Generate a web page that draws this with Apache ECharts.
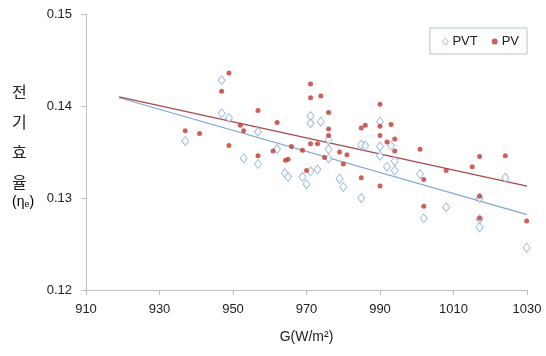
<!DOCTYPE html>
<html>
<head>
<meta charset="utf-8">
<script src="https://cdn.jsdelivr.net/npm/echarts@6/dist/echarts.min.js"></script>
<style>html,body{margin:0;padding:0;background:#fff}#c{width:546px;height:356px}</style>
</head>
<body>
<div id="c"></div>
<script>
// x tick labels / axis
const xTicks = [910, 930, 950, 970, 990, 1010, 1030];
const yTicks = [0.12, 0.13, 0.14, 0.15];

// PVT data: [G, efficiency]
const pvtG = [937.0, 946.9, 946.9, 948.9, 952.9, 956.8, 956.8, 962.0, 964.1, 965.0,
  968.9, 970.0, 971.1, 971.1, 973.9, 971.1, 973.0, 976.0, 976.0, 976.0,
  979.0, 980.0, 984.9, 986.0, 984.9, 990.0, 990.0, 993.0, 990.0, 994.0,
  991.9, 994.0, 1000.9, 1001.9, 1008.0, 1017.1, 1017.1, 1017.1, 1024.1, 1029.9];
const pvtEff = [0.1362, 0.1428, 0.1392, 0.1387, 0.1343, 0.1372, 0.1337, 0.1353, 0.1327, 0.1323,
  0.1323, 0.1315, 0.1389, 0.1381, 0.1383, 0.1329, 0.1331, 0.1363, 0.1353, 0.1343,
  0.1321, 0.1312, 0.1358, 0.1357, 0.1300, 0.1383, 0.1356, 0.1357, 0.1346, 0.1340,
  0.1334, 0.1330, 0.1326, 0.1278, 0.1290, 0.1300, 0.1277, 0.1268, 0.1322, 0.1246];

// PV data
const pvG = [937.0, 940.9, 948.9, 946.9, 956.8, 952.0, 952.9, 948.9, 956.8, 962.0,
  960.9, 965.9, 968.9, 964.3, 965.0, 970.0, 971.1, 971.1, 973.9, 976.0,
  976.0, 976.0, 971.1, 973.0, 974.9, 979.0, 981.0, 980.0, 984.9, 986.0,
  984.9, 990.0, 990.0, 990.0, 993.0, 991.9, 994.0, 994.0, 990.0, 1000.9,
  1001.9, 1001.9, 1008.0, 1015.1, 1017.1, 1017.1, 1017.1, 1024.1, 1029.9];
const pvEff = [0.1373, 0.1370, 0.1436, 0.1416, 0.1395, 0.1379, 0.1373, 0.1357, 0.1346, 0.1382,
  0.1351, 0.1356, 0.1352, 0.1341, 0.1342, 0.1330, 0.1424, 0.1409, 0.1411, 0.1393,
  0.1375, 0.1368, 0.1359, 0.1359, 0.1344, 0.1350, 0.1347, 0.1337, 0.1376, 0.1379,
  0.1322, 0.1402, 0.1378, 0.1368, 0.1380, 0.1361, 0.1364, 0.1351, 0.1313, 0.1353,
  0.1320, 0.1291, 0.1330, 0.1334, 0.1345, 0.1302, 0.1278, 0.1346, 0.1275];

// trend line endpoints
const trendG = [919, 1030];
const pvtTrend = [0.1409, 0.1282];
const pvTrend = [0.1410, 0.1313];

const zip = (a, b) => a.map((v, i) => [v, b[i]]);

const chart = echarts.init(document.getElementById('c'), null, {renderer: 'canvas'});
const axisColor = '#bfbfbf';
const font = 'Liberation Sans, Arial, sans-serif';
chart.setOption({
  animation: false,
  grid: {left: 86, right: 19, top: 14, bottom: 66},
  legend: {
    data: [
      {name: 'PVT', icon: 'diamond', itemStyle: {color: '#ffffff', borderColor: '#8facd6', borderWidth: 1}},
      {name: 'PV', icon: 'circle'}
    ],
    right: 19, top: 28,
    orient: 'horizontal',
    borderColor: '#b7c3d3', borderWidth: 1,
    padding: [7, 8, 6, 12],
    itemWidth: 6, itemHeight: 7, itemGap: 14,
    textStyle: {fontFamily: font, fontSize: 13, color: '#222', padding: [0, 0, 0, -1]}
  },
  xAxis: {
    type: 'value', min: 910, max: 1030, interval: 20,
    name: 'G(W/m²)', nameLocation: 'middle', nameGap: 40,
    nameTextStyle: {fontFamily: font, fontSize: 14, color: '#222'},
    axisLine: {lineStyle: {color: axisColor}},
    axisTick: {show: true, inside: false, length: 5, lineStyle: {color: axisColor}},
    splitLine: {show: false},
    axisLabel: {fontFamily: font, fontSize: 13, color: '#222', margin: 13,
      formatter: v => xTicks.includes(v) ? String(v) : ''}
  },
  yAxis: {
    type: 'value', min: 0.12, max: 0.15, interval: 0.01,
    axisLine: {show: true, lineStyle: {color: axisColor}},
    axisTick: {show: true, inside: false, length: 5, lineStyle: {color: axisColor}},
    splitLine: {show: false},
    axisLabel: {fontFamily: font, fontSize: 13, color: '#222', margin: 14,
      formatter: v => v.toFixed(2)}
  },
  graphic: [
    {type: 'text', left: 12, top: 77,
      style: {text: '전\n기\n효\n율', font: '16px "Noto Sans CJK KR", sans-serif', fill: '#222', lineHeight: 30, textAlign: 'left'}},
    {type: 'text', left: 12, top: 195,
      style: {text: '{a|(η}{b|e}{a|)}', rich: {
        a: {fontFamily: font, fontSize: 14, color: '#222'},
        b: {fontFamily: font, fontSize: 9, color: '#222', verticalAlign: 'bottom', padding: [6, 0, 0, 0]}
      }}}
  ],
  series: [
    {name: 'PVT trend', type: 'line', data: zip(trendG, pvtTrend), symbol: 'none',
      lineStyle: {color: '#7fa6d6', width: 1.2}, silent: true, z: 1},
    {name: 'PV trend', type: 'line', data: zip(trendG, pvTrend), symbol: 'none',
      lineStyle: {color: '#a8484a', width: 1.2}, silent: true, z: 1},
    {name: 'PVT', type: 'scatter', data: zip(pvtG, pvtEff), symbol: 'diamond', symbolSize: [7, 9],
      itemStyle: {color: '#ffffff', borderColor: '#8facd6', borderWidth: 1}, z: 3},
    {name: 'PV', type: 'scatter', data: zip(pvG, pvEff), symbol: 'circle', symbolSize: 5,
      itemStyle: {color: '#c0392f'}, z: 4}
  ]
});
</script>
</body>
</html>
